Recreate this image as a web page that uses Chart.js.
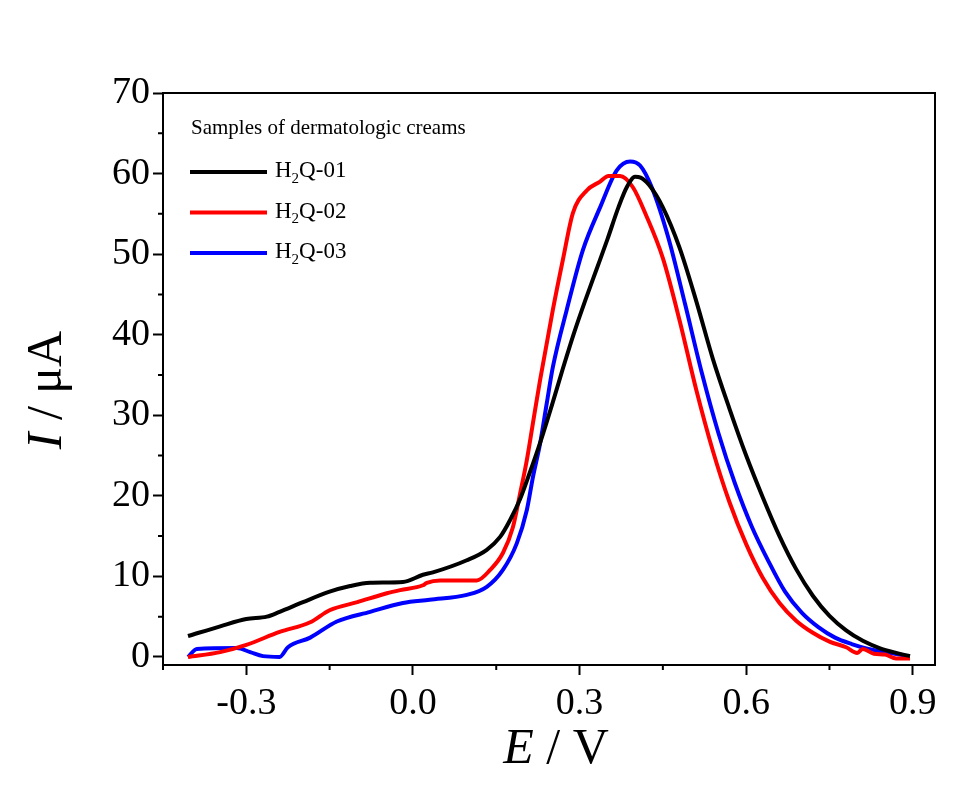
<!DOCTYPE html>
<html>
<head>
<meta charset="utf-8">
<script src="https://cdn.jsdelivr.net/npm/chart.js@4.4.1/dist/chart.umd.min.js"></script>
<style>
  html, body { margin: 0; padding: 0; background: #fff; }
  #wrap { width: 957px; height: 787px; }
</style>
</head>
<body>
<div id="wrap"><canvas id="myChart" width="957" height="787"></canvas></div>
<script>
// tick values
const xTicks = [-0.3, 0.0, 0.3, 0.6, 0.9];
const xMinor = [-0.45, -0.15, 0.15, 0.45, 0.75];
const yTicks = [0, 10, 20, 30, 40, 50, 60, 70];
const yMinor = [5, 15, 25, 35, 45, 55, 65];

const legendTitle = "Samples of dermatologic creams";
const sampleNames = ["H2Q-01", "H2Q-02", "H2Q-03"];
const lineColors = ["#000000", "#ff0000", "#0000ff"];

// H2Q-01 (black)
const blackE = [-0.405, -0.347, -0.30, -0.263, -0.24, -0.198, -0.15, -0.113, -0.077, -0.018, 0.018, 0.036,
  0.097, 0.133, 0.157, 0.175, 0.193, 0.21, 0.23, 0.25, 0.27, 0.29, 0.31, 0.33, 0.35, 0.37, 0.385, 0.40, 0.41,
  0.425, 0.45, 0.48, 0.51, 0.54, 0.57, 0.60, 0.63, 0.66, 0.69, 0.72, 0.75, 0.78, 0.81, 0.84, 0.87, 0.895];
const blackI = [2.6, 3.8, 4.7, 5.0, 5.6, 6.8, 8.1, 8.8, 9.2, 9.3, 10.2, 10.5,
  12.0, 13.3, 14.9, 17.0, 19.6, 22.8, 26.8, 31.2, 35.8, 40.2, 44.2, 48.0, 51.8, 55.8, 58.3, 59.6, 59.5,
  58.6, 55.8, 50.8, 44.2, 37.0, 30.8, 25.0, 19.8, 15.0, 10.9, 7.6, 5.1, 3.3, 2.0, 1.1, 0.5, 0.1];

// H2Q-02 (red)
const redE = [-0.405, -0.347, -0.30, -0.24, -0.185, -0.15, -0.10, -0.047, -0.023, 0.018, 0.025, 0.049,
  0.115, 0.139, 0.162, 0.18, 0.193, 0.205, 0.216, 0.229, 0.252, 0.27, 0.288, 0.313, 0.337, 0.352, 0.373,
  0.396, 0.42, 0.45, 0.48, 0.51, 0.54, 0.57, 0.60, 0.63, 0.66, 0.69, 0.72, 0.75, 0.78, 0.80, 0.81, 0.83,
  0.85, 0.87, 0.895];
const redI = [0.0, 0.6, 1.5, 3.1, 4.3, 5.8, 6.8, 7.9, 8.3, 8.9, 9.2, 9.5,
  9.5, 10.8, 12.9, 16.1, 20.3, 24.4, 29.0, 34.4, 43.1, 49.3, 55.1, 57.9, 59.0, 59.7, 59.7,
  58.3, 54.8, 49.5, 41.8, 33.2, 25.6, 19.2, 14.0, 9.8, 6.7, 4.5, 3.0, 1.9, 1.2, 0.5, 1.0, 0.4,
  0.3, -0.2, -0.2];

// H2Q-03 (blue)
const blueE = [-0.405, -0.389, -0.317, -0.293, -0.27, -0.24, -0.225, -0.185, -0.137, -0.077, -0.018, 0.03,
  0.097, 0.133, 0.162, 0.187, 0.205, 0.216, 0.229, 0.241, 0.252, 0.277, 0.306, 0.337, 0.367, 0.391, 0.409,
  0.43, 0.46, 0.49, 0.52, 0.55, 0.58, 0.61, 0.64, 0.67, 0.70, 0.73, 0.76, 0.79, 0.82, 0.86, 0.891];
const blueI = [0.0, 1.0, 1.1, 0.6, 0.1, 0.0, 1.2, 2.4, 4.4, 5.6, 6.7, 7.1,
  7.7, 8.7, 10.8, 14.1, 18.2, 22.3, 26.5, 31.5, 36.0, 43.1, 50.5, 55.8, 60.4, 61.5, 61.0,
  58.3, 52.0, 43.8, 35.3, 27.8, 21.5, 16.2, 11.9, 8.1, 5.5, 3.7, 2.4, 1.6, 1.0, 0.5, 0.1];

const toPoints = (xs, ys) => xs.map((x, i) => ({ x: x, y: ys[i] }));

const serif = "'Liberation Serif', 'Times New Roman', serif";

// frame, minor ticks, axis titles and legend
const decorations = {
  id: "decorations",
  afterDraw(chart) {
    const { ctx, chartArea: a, scales } = chart;
    ctx.save();
    ctx.strokeStyle = "#000";
    ctx.lineWidth = 2;
    ctx.beginPath();
    ctx.moveTo(a.left, a.top); ctx.lineTo(a.right, a.top); ctx.lineTo(a.right, a.bottom);
    xMinor.forEach((v) => {
      const px = scales.x.getPixelForValue(v);
      ctx.moveTo(px, a.bottom); ctx.lineTo(px, a.bottom + 5);
    });
    yMinor.forEach((v) => {
      const py = scales.y.getPixelForValue(v);
      ctx.moveTo(a.left, py); ctx.lineTo(a.left - 5, py);
    });
    ctx.stroke();

    // axis titles: italic symbol + upright unit
    ctx.fillStyle = "#000";
    ctx.textBaseline = "middle";
    const italic = "italic 50px " + serif;
    const normal = "50px " + serif;
    const drawTitle = (sym, rest, cx, cy) => {
      ctx.font = italic; const w1 = ctx.measureText(sym).width;
      ctx.font = normal; const w2 = ctx.measureText(rest).width;
      const x0 = cx - (w1 + w2) / 2;
      ctx.textAlign = "left";
      ctx.font = italic; ctx.fillText(sym, x0, cy);
      ctx.font = normal; ctx.fillText(rest, x0 + w1, cy);
    };
    drawTitle("E", " / V", 556, 750);
    ctx.save();
    ctx.translate(48, 390);
    ctx.rotate(-Math.PI / 2);
    drawTitle("I", " / \u03bcA", 0, 0);
    ctx.restore();

    // legend
    ctx.textAlign = "left";
    ctx.font = "21px " + serif;
    ctx.fillText(legendTitle, 191, 128);
    sampleNames.forEach((name, i) => {
      const y = 172 + i * 40.5;
      ctx.strokeStyle = lineColors[i];
      ctx.lineWidth = 4;
      ctx.beginPath(); ctx.moveTo(190, y); ctx.lineTo(267, y); ctx.stroke();
      const parts = name.split("2");
      let x = 275;
      ctx.font = "23px " + serif;
      ctx.fillText(parts[0], x, y - 1); x += ctx.measureText(parts[0]).width;
      ctx.font = "15px " + serif;
      ctx.fillText("2", x, y + 7); x += ctx.measureText("2").width;
      ctx.font = "23px " + serif;
      ctx.fillText(parts.slice(1).join("2"), x, y - 1);
    });
    ctx.restore();
  }
};

const ctx = document.getElementById("myChart");

new Chart(ctx, {
  type: "line",
  data: {
    datasets: [
      { label: sampleNames[0], data: toPoints(blackE, blackI), borderColor: lineColors[0] },
      { label: sampleNames[1], data: toPoints(redE, redI), borderColor: lineColors[1] },
      { label: sampleNames[2], data: toPoints(blueE, blueI), borderColor: lineColors[2] },
    ],
  },
  options: {
    responsive: false,
    animation: false,
    devicePixelRatio: 1,
    layout: { padding: { top: 93, right: 22, left: 0, bottom: 0 } },
    elements: {
      line: { borderWidth: 4, cubicInterpolationMode: "monotone", fill: false },
      point: { radius: 0 },
    },
    plugins: {
      legend: { display: false },
      tooltip: { enabled: false },
    },
    scales: {
      x: {
        type: "linear",
        min: -0.45,
        max: 0.94,
        afterBuildTicks: (scale) => { scale.ticks = xTicks.map((v) => ({ value: v })); },
        afterFit: (scale) => { scale.height = 122; },
        ticks: {
          color: "#000",
          font: { family: serif, size: 38 },
          padding: 6,
          maxRotation: 0,
          callback: (v) => Number(v).toFixed(1),
        },
        grid: { drawOnChartArea: false, tickLength: 10, tickWidth: 2, tickColor: "#000" },
        border: { display: true, color: "#000", width: 2 },
      },
      y: {
        type: "linear",
        min: -1,
        max: 70,
        afterBuildTicks: (scale) => { scale.ticks = yTicks.map((v) => ({ value: v })); },
        afterFit: (scale) => { scale.width = 163; },
        ticks: {
          color: "#000",
          font: { family: serif, size: 38 },
          padding: 3,
          callback: (v) => String(v),
        },
        grid: { drawOnChartArea: false, tickLength: 10, tickWidth: 2, tickColor: "#000" },
        border: { display: true, color: "#000", width: 2 },
      },
    },
  },
  plugins: [decorations],
});
</script>
</body>
</html>
